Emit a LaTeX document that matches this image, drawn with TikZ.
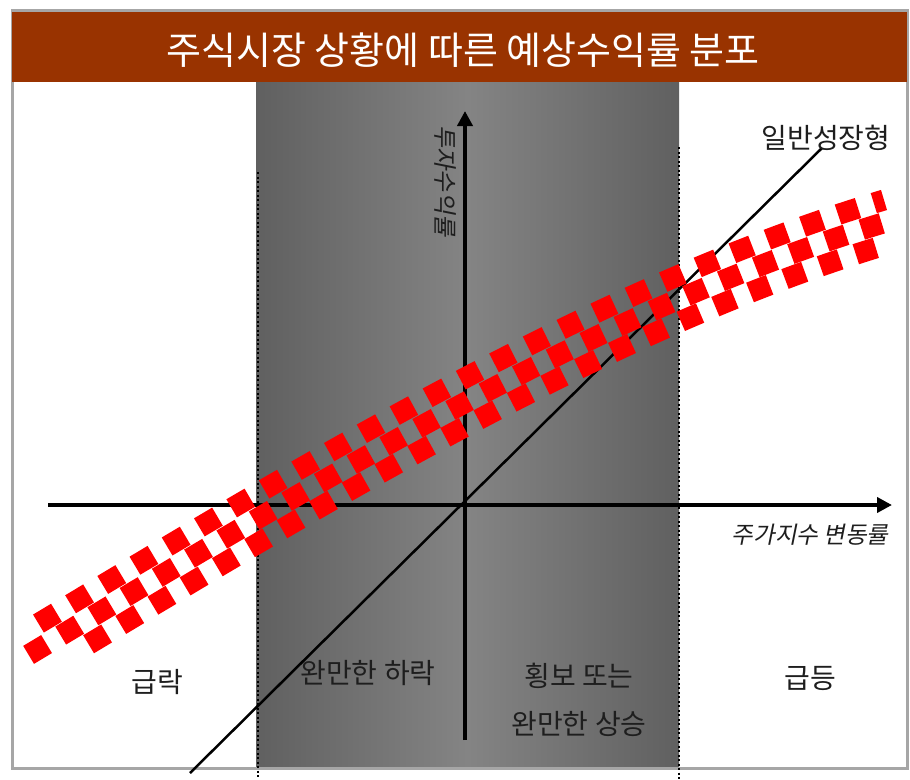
\documentclass[tikz,border=0pt]{standalone}
\usepackage{fontspec}
\setmainfont{Noto Sans CJK KR}
\newfontfamily\slantkr[FakeSlant=0.2]{Noto Sans CJK KR}
\usepackage{xcolor}
\usepackage{tikz}
\usetikzlibrary{positioning,arrows.meta}
\definecolor{banner}{RGB}{153,51,0}
\definecolor{frame}{RGB}{166,166,166}
\definecolor{bandedge}{RGB}{96,96,96}
\definecolor{bandmid}{RGB}{132,132,132}
\definecolor{ink}{RGB}{30,30,30}

\begin{document}
\begin{tikzpicture}[x=1pt,y=-1pt,font=\fontsize{28}{32}\selectfont,
  axis/.style={line width=4.5pt,-{Triangle[length=15pt,width=15pt]}},
  checker/.style={draw=red,line width=21pt,dash pattern=on 21pt off 16.5pt},
  guide/.style={line width=2pt,dash pattern=on 2pt off 2.5pt}]
\useasboundingbox (0,0) rectangle (910,779);
\coordinate (O) at (465,505);
\coordinate (XL) at (48,505); \coordinate (XR) at (892,505);
\coordinate (YB) at (465,740); \coordinate (YT) at (465,111);
\coordinate (G0) at (190,773); \coordinate (G1) at (822,148);
% shaded middle zone, frame, title bar
\shade[left color=bandedge, right color=bandedge, middle color=bandmid] (256,82) rectangle (679,767);
\draw[frame, line width=3pt] (12,10) rectangle (907,768);
\fill[banner] (12,12) rectangle (907,82);
\node[text=white, font=\fontsize{38}{40}\selectfont] (title) at (463,50) {주식시장 상황에 따른 예상수익률 분포};
\foreach \x/\y in {258/172, 679/147}{\draw[guide] (\x,\y) -- (\x,779);}
% axes and growth line
\draw[axis] (XL) -- (XR);
\draw[axis] (YB) -- (YT);
\draw[line width=2.5pt] (G0) -- (G1);
% expected return band
\foreach \dx/\dy/\cut/\cutend in {0/0/10/4, -9/-20/32/0, 9/20/69.5/16}
  {\draw[checker, shorten <=\cut pt, shorten >=\cutend pt, shift={(\dx,\dy)}] (20,660) .. controls (310,486) and (603,307) .. (893,220);}
% labels
\node[below left=16pt and 0pt of XR, font=\slantkr\fontsize{23.5}{26}\selectfont, text=ink] (xlab) {주가지수 변동률};
\node[rotate=-90, font=\slantkr\fontsize{24}{26}\selectfont, text=ink] (ylab) at (445,181) {투자수익률};
\node[text=ink] (growth) at (826,138) {일반성장형};
\node[text=ink] (crash) at (157,682) {급락};
\node[text=ink] (down) at (368,673) {완만한 하락};
\node[text=ink, align=center, font=\fontsize{28}{48}\selectfont] (flat) at (579,700) {횡보 또는\\완만한 상승};
\node[text=ink] (surge) at (810,678) {급등};
\end{tikzpicture}
\end{document}
